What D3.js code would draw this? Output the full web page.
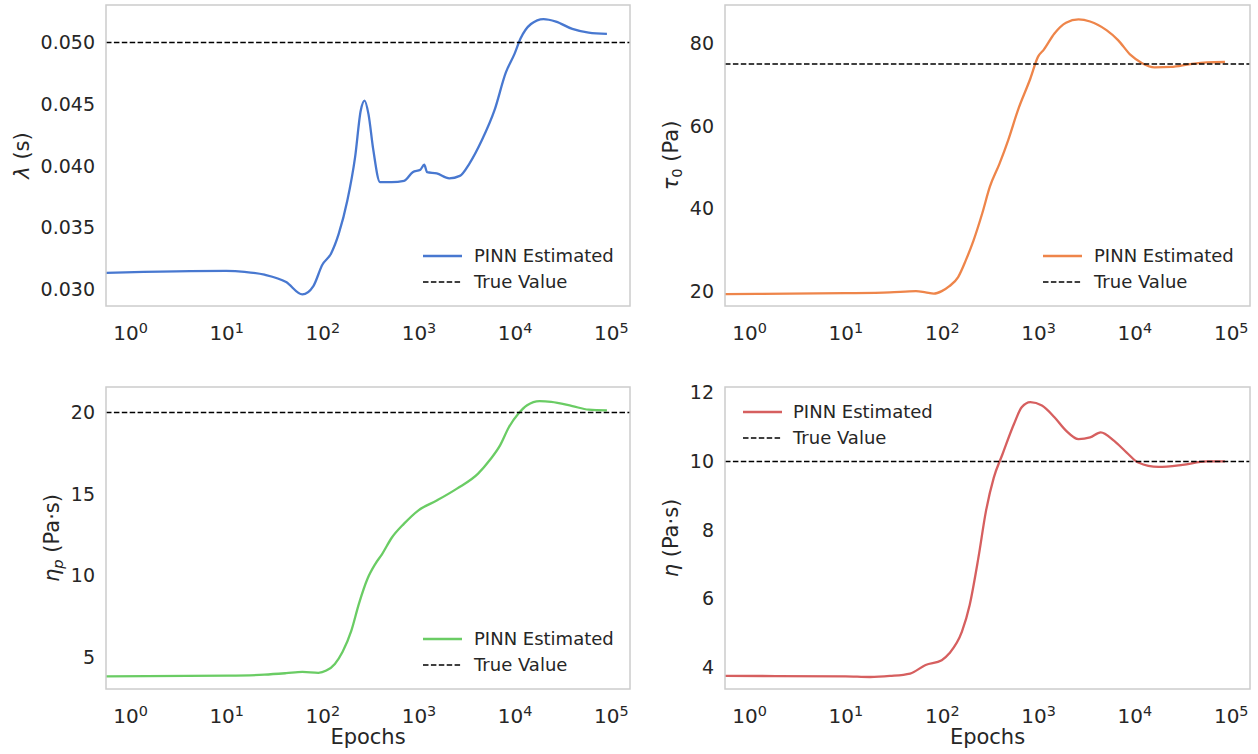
<!DOCTYPE html>
<html>
<head>
<meta charset="utf-8">
<script src="https://cdn.jsdelivr.net/npm/d3@7"></script>
<style>
  body { margin: 0; background: #fff; }
  text { font-family: "DejaVu Sans", sans-serif; fill: #262626; }
</style>
</head>
<body>
<div id="chart"></div>
<script>
// epochs vs estimated parameter
const lambdaSeries = [
    [0.5623, 0.03135], [10, 0.0315], [15.5, 0.03143], [25, 0.0312], [42, 0.0306], [62, 0.0296],
    [81, 0.0303], [100, 0.0320], [123, 0.0329], [148, 0.0345], [182, 0.0372], [219, 0.0407],
    [251, 0.0445], [275, 0.0453], [302, 0.0442], [339, 0.0413], [398, 0.0387], [525, 0.0387],
    [708, 0.0388], [871, 0.0395], [1047, 0.0397], [1148, 0.0401], [1230, 0.0395], [1549, 0.0394],
    [2089, 0.0390], [2692, 0.0392], [3388, 0.0402], [4571, 0.0421], [6166, 0.0445], [8128, 0.0476],
    [10000, 0.0491], [11482, 0.0503], [14791, 0.0515], [19953, 0.0519], [26915, 0.0517],
    [39811, 0.0511], [58884, 0.0508], [91201, 0.0507]
];
const tauSeries = [
    [0.5623, 19.3], [10, 19.5], [29, 19.7], [54, 20.0], [68, 19.7], [83, 19.4], [100, 20.0],
    [120, 21.2], [148, 23.4], [178, 27.5], [214, 32.3], [263, 38.8], [316, 45.3], [398, 50.9],
    [490, 56.6], [617, 63.8], [832, 71.5], [1000, 76.8], [1148, 78.5], [1479, 82.4], [1950, 85.0],
    [2630, 85.8], [3467, 85.3], [5129, 83.2], [6761, 80.8], [9120, 77.2], [12023, 75.2],
    [16218, 74.2], [23988, 74.3], [38019, 75.0], [56234, 75.4], [87096, 75.5]
];
const etaPSeries = [
    [0.5623, 3.81], [10.5, 3.85], [25, 3.91], [42, 4.0], [62, 4.08], [91, 4.02], [110, 4.16],
    [135, 4.57], [162, 5.3], [200, 6.6], [240, 8.26], [295, 9.8], [355, 10.7], [417, 11.3],
    [525, 12.3], [708, 13.18], [1000, 14.0], [1549, 14.6], [2512, 15.33], [4169, 16.25],
    [5495, 17.07], [7079, 18.0], [8710, 19.1], [10965, 19.94], [13490, 20.45], [18197, 20.7],
    [23988, 20.66], [39811, 20.4], [58884, 20.18], [91201, 20.14]
];
const etaSeries = [
    [0.5623, 3.75], [10, 3.74], [18, 3.72], [29, 3.75], [47, 3.82], [68, 4.07], [100, 4.21],
    [120, 4.41], [162, 5.04], [195, 5.82], [240, 7.19], [288, 8.56], [347, 9.53], [427, 10.21],
    [562, 11.09], [676, 11.58], [832, 11.73], [1096, 11.63], [1479, 11.29], [1950, 10.9],
    [2630, 10.65], [3467, 10.7], [4467, 10.85], [6166, 10.6], [8318, 10.26], [10965, 9.97],
    [17783, 9.84], [31623, 9.9], [56234, 10.0], [87096, 10.0]
];

const trueValues = [0.05, 75, 20, 10];
const yTicks = [
    [0.030, 0.035, 0.040, 0.045, 0.050],
    [20, 40, 60, 80],
    [5, 10, 15, 20],
    [4, 6, 8, 10, 12]
];
const xTicks = [1, 10, 100, 1000, 10000, 100000];
const legendLabels = ["PINN Estimated", "True Value"];

const W = 1258, H = 754;
const svg = d3.select("#chart").append("svg")
    .attr("width", W)
    .attr("height", H);

const panels = [
    { series: lambdaSeries, trueVal: trueValues[0], ticks: yTicks[0], fmt: d3.format(".3f"),
      color: "#4878d0", yDomain: [0.02866, 0.05304], box: [106, 5, 524, 301], legend: "lr",
      ylabel: [["λ", "italic"], [" (s)"]], xlabel: false },
    { series: tauSeries, trueVal: trueValues[1], ticks: yTicks[1], fmt: d3.format("d"),
      color: "#ee854a", yDomain: [16.4, 89.3], box: [725, 5, 525, 301], legend: "lr",
      ylabel: [["τ", "italic"], ["0", "sub"], [" (Pa)", "unsub"]], xlabel: false },
    { series: etaPSeries, trueVal: trueValues[2], ticks: yTicks[2], fmt: d3.format("d"),
      color: "#6acc64", yDomain: [3.03, 21.57], box: [106, 387, 524, 302], legend: "lr",
      ylabel: [["η", "italic"], ["p", "subit"], [" (Pa·s)", "unsub"]], xlabel: true },
    { series: etaSeries, trueVal: trueValues[3], ticks: yTicks[3], fmt: d3.format("d"),
      color: "#d65f5f", yDomain: [3.37, 12.17], box: [725, 387, 525, 302], legend: "ul",
      ylabel: [["η", "italic"], [" (Pa·s)"]], xlabel: true }
];

panels.forEach((p, i) => {
    const [left, top, width, height] = p.box;
    const g = svg.append("g").attr("transform", "translate(" + left + "," + top + ")");

    const x = d3.scaleLog()
        .domain([Math.pow(10, -0.25), Math.pow(10, 5.2)])
        .range([0, width]);
    const y = d3.scaleLinear()
        .domain(p.yDomain)
        .range([height, 0]);

    g.append("clipPath").attr("id", "clip" + i)
        .append("rect").attr("width", width).attr("height", height);

    // y axis (no tick marks, just labels)
    const yAxisG = g.append("g")
        .call(d3.axisLeft(y).tickValues(p.ticks).tickFormat(p.fmt).tickSize(0).tickPadding(11));
    yAxisG.select(".domain").remove();
    yAxisG.selectAll("text")
        .attr("font-size", 19)
        .attr("font-family", "DejaVu Sans")
        .attr("fill", "#262626");

    // x axis with 10^n labels
    const xAxisG = g.append("g")
        .attr("transform", "translate(0," + height + ")")
        .call(d3.axisBottom(x).tickValues(xTicks).tickFormat("").tickSize(0).tickPadding(20));
    xAxisG.select(".domain").remove();
    xAxisG.selectAll("text")
        .attr("font-size", 20)
        .attr("font-family", "DejaVu Sans")
        .attr("fill", "#262626")
        .each(function (d) {
            const t = d3.select(this);
            t.text(null);
            t.append("tspan").text("10");
            t.append("tspan").attr("dy", "-0.5em").attr("font-size", "0.72em").text(Math.round(Math.log10(d)));
        });

    // estimated curve
    const line = d3.line()
        .x(d => x(d[0]))
        .y(d => y(d[1]))
        .curve(d3.curveMonotoneX);

    g.append("path")
        .datum(p.series)
        .attr("clip-path", "url(#clip" + i + ")")
        .attr("fill", "none")
        .attr("stroke", p.color)
        .attr("stroke-width", 2.3)
        .attr("stroke-linejoin", "round")
        .attr("d", line);

    // true value
    g.append("line")
        .attr("x1", 0).attr("x2", width)
        .attr("y1", y(p.trueVal)).attr("y2", y(p.trueVal))
        .attr("stroke", "#000")
        .attr("stroke-width", 1.6)
        .attr("stroke-dasharray", "5.5,2.4");

    // frame
    g.append("rect")
        .attr("width", width).attr("height", height)
        .attr("fill", "none")
        .attr("stroke", "#cccccc")
        .attr("stroke-width", 1.5);

    // y label placed left of the tick labels
    const bb = yAxisG.node().getBBox();
    const yl = g.append("text")
        .attr("transform", "translate(" + (bb.x - 12) + "," + (height / 2) + ") rotate(-90)")
        .attr("text-anchor", "middle")
        .attr("font-size", 21);
    p.ylabel.forEach(([txt, kind]) => {
        const ts = yl.append("tspan").text(txt);
        if (kind === "italic") ts.attr("font-style", "italic");
        if (kind === "sub") ts.attr("font-size", "0.7em").attr("dy", "0.3em");
        if (kind === "subit") ts.attr("font-size", "0.7em").attr("dy", "0.3em").attr("font-style", "italic");
        if (kind === "unsub") ts.attr("dy", "-0.21em");
    });

    if (p.xlabel) {
        g.append("text")
            .attr("x", width / 2)
            .attr("y", height + 55)
            .attr("text-anchor", "middle")
            .attr("font-size", 21)
            .text("Epochs");
    }

    // legend
    let hx, tx, rowY;
    if (p.legend === "lr") {
        hx = width - 207; tx = width - 156; rowY = [height - 50, height - 24];
    } else {
        hx = 18; tx = 68; rowY = [25, 51];
    }
    const legend = g.append("g").attr("class", "legend");
    const items = legend.selectAll(".legend-item")
        .data(legendLabels)
        .enter().append("g")
        .attr("class", "legend-item")
        .attr("transform", (d, k) => "translate(0," + rowY[k] + ")");

    items.append("line")
        .attr("x1", hx).attr("x2", hx + 39)
        .attr("stroke", (d, k) => k === 0 ? p.color : "#000")
        .attr("stroke-width", (d, k) => k === 0 ? 2.3 : 1.6)
        .attr("stroke-dasharray", (d, k) => k === 0 ? null : "5.5,2.4");

    items.append("text")
        .attr("x", tx)
        .attr("dy", "0.35em")
        .attr("font-size", 18)
        .text(d => d);
});
</script>
</body>
</html>
